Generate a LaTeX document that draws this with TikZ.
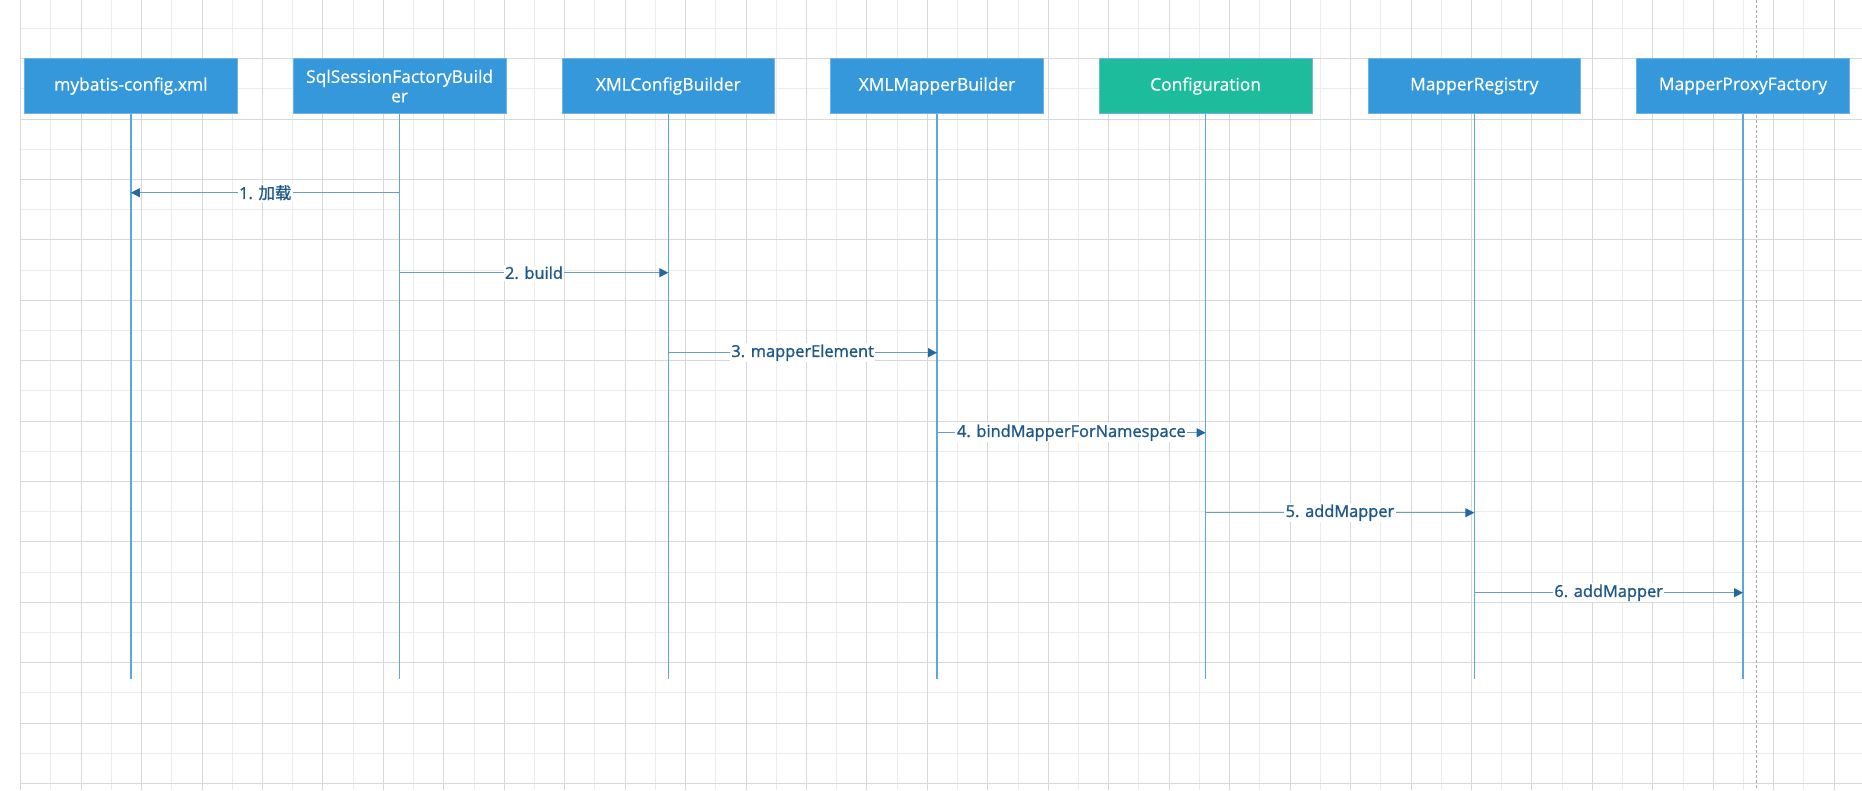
\documentclass[tikz,border=0pt]{standalone}
\usepackage{fontspec}
\setmainfont{Open Sans}
\newfontfamily\boxfont{Open Sans}[FakeBold=0.6]
\newfontfamily\lblfont{Open Sans}[FakeBold=1.3]
\newfontfamily\cjk{Noto Sans CJK SC}[FakeBold=1.0]
\usetikzlibrary{arrows.meta}

\definecolor{gridmaj}{RGB}{216,216,216}
\definecolor{gridmin}{RGB}{236,236,236}
\definecolor{boxblue}{RGB}{53,152,219}
\definecolor{boxteal}{RGB}{28,188,156}
\definecolor{boxedge}{RGB}{110,180,230}
\definecolor{lifeblue}{RGB}{90,168,222}
\definecolor{msgline}{RGB}{108,155,196}
\definecolor{msghead}{RGB}{36,104,160}
\definecolor{msgtext}{RGB}{30,88,138}
\definecolor{pagebreak}{RGB}{170,170,170}

\begin{document}
\begin{tikzpicture}[x=1pt,y=-1pt,
  actor/.style={draw=boxedge, line width=0.8pt, fill=boxblue, text=white,
    minimum width=212.6pt, minimum height=54.6pt, inner sep=0pt, align=center,
    font=\boxfont\fontsize{17.4}{19.4}\selectfont},
  life/.style={draw=lifeblue, line width=1.6pt},
  msg/.style={draw=msgline, line width=1.2pt,
    -{Triangle[length=9pt,width=9pt,color=msghead]}},
  lbl/.style={fill=white, text=msgtext, inner sep=1.5pt,
    font=\lblfont\fontsize{16.4}{19}\selectfont},
  gminor/.style={draw=gridmin, line width=0.9pt},
  gmajor/.style={draw=gridmaj, line width=0.9pt}]

% canvas
\fill[white] (0,0) rectangle (1862,790);
\useasboundingbox (0,0) rectangle (1862,790);

% background grid
\begin{scope}
\clip (0,0) rectangle (1862,790);
\foreach \k in {0,...,30} {
  \draw[gminor] ({50.825+60.45*\k},0) -- ({50.825+60.45*\k},790);
}
\foreach \k in {0,...,12} {
  \draw[gminor] (20.6,{28.5+60.4*\k}) -- (1862,{28.5+60.4*\k});
}
\foreach \k in {0,...,30} {
  \draw[gmajor] ({20.6+60.45*\k},0) -- ({20.6+60.45*\k},790);
}
\foreach \k in {0,...,13} {
  \draw[gmajor] (20.6,{-1.7+60.4*\k}) -- (1862,{-1.7+60.4*\k});
}
\end{scope}

% page break marker
\draw[pagebreak, line width=0.9pt, dash pattern=on 3pt off 2pt] (1756.2,0) -- (1756.2,790);

% participants
\node[actor] (myb)  at (130.9,86)  {mybatis-config.xml};
\node[actor] (ssfb) at (399.6,86)  {SqlSessionFactoryBuild\\er};
\node[actor] (xcb)  at (668.3,86)  {XMLConfigBuilder};
\node[actor] (xmb)  at (937.0,86)  {XMLMapperBuilder};
\node[actor, fill=boxteal] (cfg) at (1205.6,86) {Configuration};
\node[actor] (mreg) at (1474.3,86) {MapperRegistry};
\node[actor] (mpf)  at (1743.0,86) {MapperProxyFactory};

% lifelines
\coordinate (bottom) at (0,679);
\foreach \p in {myb,ssfb,xcb,xmb,cfg,mreg,mpf} {
  \draw[life] (\p.south) -- (\p.south |- bottom);
}

% message rows
\coordinate (r1) at (0,192.7);
\coordinate (r2) at (0,272.7);
\coordinate (r3) at (0,352.7);
\coordinate (r4) at (0,432.7);
\coordinate (r5) at (0,512.7);
\coordinate (r6) at (0,592.7);

% messages
\draw[msg] (ssfb.south |- r1) -- node[lbl] {1. {\cjk 加载}} (myb.south |- r1);
\draw[msg] (ssfb.south |- r2) -- node[lbl] {2. build} (xcb.south |- r2);
\draw[msg] (xcb.south |- r3) -- node[lbl] {3. mapperElement} (xmb.south |- r3);
\draw[msg] (xmb.south |- r4) -- node[lbl] {4. bindMapperForNamespace} (cfg.south |- r4);
\draw[msg] (cfg.south |- r5) -- node[lbl] {5. addMapper} (mreg.south |- r5);
\draw[msg] (mreg.south |- r6) -- node[lbl] {6. addMapper} (mpf.south |- r6);
\end{tikzpicture}
\end{document}
